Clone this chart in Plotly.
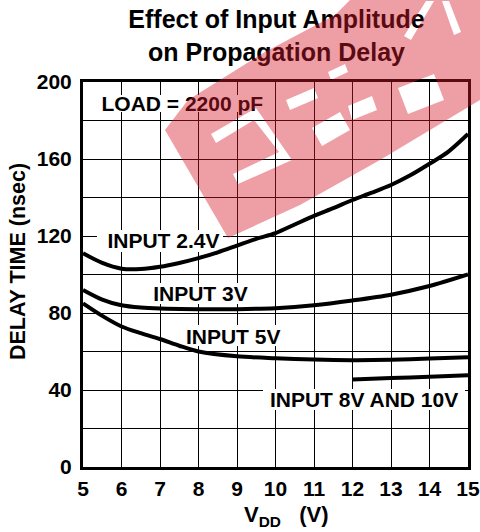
import plotly.graph_objects as go

# ---------------- data ----------------
vdd_24 = [5, 5.5, 6, 6.5, 7, 7.5, 8, 8.5, 9, 9.5, 10, 10.5, 11, 11.5, 12, 12.5, 13, 13.5, 14, 14.5, 15]
delay_24 = [111, 106, 103, 102.8, 104, 106, 108.5, 111.5, 115, 118.5, 121.5, 126, 130.5, 134.5, 138.7,
            142.5, 146.5, 151.5, 157.5, 164, 173]

vdd_3 = [5, 5.5, 6, 6.5, 7, 8, 9, 10, 11, 12, 13, 14, 15]
delay_3 = [92, 87, 84, 82.8, 82.3, 82, 82, 82.5, 84, 86.5, 89.5, 94, 100]

vdd_5 = [5, 5.5, 6, 6.5, 7, 7.5, 8, 9, 10, 11, 12, 13, 14, 15]
delay_5 = [85, 78.5, 73, 69.5, 66.5, 63, 60, 57.5, 56.5, 55.8, 55.5, 55.7, 56.3, 57]

vdd_8 = [12, 13, 14, 15]
delay_8 = [45.5, 46.2, 46.9, 47.7]

label_text = ["LOAD = 2200 pF", "INPUT 2.4V", "INPUT 3V", "INPUT 5V", "INPUT 8V AND 10V"]
label_x = [7.58, 7.09, 8.05, 8.9, 12.3]
label_y = [187.9, 116.3, 89.0, 66.8, 33.9]

title_text = "Effect of Input Amplitude<br>on Propagation Delay"
x_ticks = list(range(5, 16))
y_ticks = [0, 40, 80, 120, 160, 200]

# ---------------- layout helpers ----------------
W, H = 480, 532
L, R, T, B = 83, 12, 82, 65
PW, PH = W - L - R, H - T - B
X0, X1, Y0, Y1 = 5, 15, 0, 200
FONT = "Liberation Sans, Arial, sans-serif"


def px2x(px):
    return X0 + (px - L) / PW * (X1 - X0)


def py2y(py):
    return Y0 + (T + PH - py) / PH * (Y1 - Y0)


fig = go.Figure()

# white boxes behind the curve labels (drawn first: above gridlines, below curves)
label_boxes_px = [(99, 266, 95, 112), (97, 223, 230, 252), (148, 252, 283, 304),
                  (181, 285, 325, 346), (263, 465, 389, 410)]
bx, by = [], []
for (xa, xb, ya, yb) in label_boxes_px:
    bx += [px2x(xa), px2x(xb), px2x(xb), px2x(xa), px2x(xa), None]
    by += [py2y(ya), py2y(ya), py2y(yb), py2y(yb), py2y(ya), None]
fig.add_trace(go.Scatter(x=bx, y=by, mode="lines", fill="toself", fillcolor="white",
                         line=dict(width=0, color="white"), hoverinfo="skip"))

for xs, ys in [(vdd_24, delay_24), (vdd_3, delay_3), (vdd_5, delay_5), (vdd_8, delay_8)]:
    fig.add_trace(go.Scatter(x=xs, y=ys, mode="lines",
                             line=dict(color="black", width=4, shape="spline", smoothing=0.8),
                             hoverinfo="skip"))

fig.add_trace(go.Scatter(x=label_x, y=label_y, text=label_text, mode="text",
                         textposition="middle center",
                         textfont=dict(family=FONT, size=21, color="black", weight="bold"),
                         cliponaxis=False, hoverinfo="skip"))

# overlay pixel-space axes spanning the whole figure (for title + watermark)
fig.add_trace(go.Scatter(x=[276.5], y=[38], text=[title_text], mode="text",
                         textposition="middle center", xaxis="x2", yaxis="y2",
                         textfont=dict(family=FONT, size=25, color="black", weight="bold"),
                         cliponaxis=False, hoverinfo="skip"))

# ---------------- watermark (pixel coordinates) ----------------
outer = [(165, 130), (228, 238), (300, 205), (380, 160), (480, 100), (480, 0), (350, 0),
         (335, 15), (265, 52), (188, 100)]
holes = [
    [(211, 134), (256, 108), (292, 160), (238, 184), (233, 174), (279, 152), (254, 120), (216, 143)],
    [(286, 100), (314, 88), (318, 98), (290, 110)],
    [(312, 128), (340, 112), (350, 130), (322, 146)],
    [(348, 106), (372, 96), (377, 110), (352, 120)],
    [(398, 88), (434, 74), (444, 100), (408, 114)],
    [(404, 36), (426, 1), (434, 1), (411, 40)],
    [(442, 1), (449, 1), (461, 32), (454, 35)],
    [(328, 72), (345, 64), (348, 72), (331, 80)],
]


def poly_path(pts):
    return "M " + " L ".join(f"{a},{b}" for a, b in pts) + " Z"


path = poly_path(outer) + " " + " ".join(poly_path(h) for h in holes)
fig.add_shape(type="path", xref="x2", yref="y2", path=path,
              fillcolor="rgb(215,25,40)", opacity=0.42, line=dict(width=0),
              fillrule="evenodd", layer="above")

# ---------------- axes ----------------
fig.update_layout(
    xaxis=dict(domain=[L / W, (W - R) / W], range=[X0, X1], tickvals=x_ticks,
               ticktext=[str(v) for v in x_ticks], automargin=False,
               showgrid=True, gridcolor="black", gridwidth=1,
               showline=True, mirror=True, linecolor="black", linewidth=3,
               ticks="", ticklabelstandoff=1, zeroline=False,
               tickfont=dict(family=FONT, size=21, color="black", weight="bold")),
    yaxis=dict(domain=[B / H, (H - T) / H], range=[Y0, Y1], tickvals=y_ticks,
               ticktext=[str(v) for v in y_ticks], automargin=False,
               showgrid=True, gridcolor="black", gridwidth=1,
               minor=dict(dtick=20, tick0=0, showgrid=True, gridcolor="black", gridwidth=1),
               showline=True, mirror=True, linecolor="black", linewidth=3,
               ticks="", ticklabelstandoff=4, zeroline=False,
               tickfont=dict(family=FONT, size=21, color="black", weight="bold")),
    xaxis2=dict(domain=[0, 1], range=[0, W], visible=False, anchor="y2", fixedrange=True,
                automargin=False),
    yaxis2=dict(domain=[0, 1], range=[H, 0], visible=False, anchor="x2", fixedrange=True,
                automargin=False),
    width=W, height=H, margin=dict(l=0, r=0, t=0, b=0, pad=0, autoexpand=False),
    plot_bgcolor="rgba(0,0,0,0)", paper_bgcolor="white", showlegend=False,
    font=dict(family=FONT, color="black"),
    annotations=[
        dict(text="DELAY TIME (nsec)", xref="paper", yref="paper", x=18 / W, y=1 - 262 / H,
             textangle=-90, showarrow=False, xanchor="center", yanchor="middle",
             font=dict(family=FONT, size=21.5, color="black", weight="bold")),
        dict(text="V<sub>DD</sub>&nbsp;&nbsp;&nbsp;(V)", xref="paper", yref="paper",
             x=286 / W, y=1 - 516 / H,
             showarrow=False, xanchor="center", yanchor="middle",
             font=dict(family=FONT, size=22, color="black", weight="bold")),
    ],
)

fig.write_html("out.html", config={"displayModeBar": False},
               post_script="document.body.style.margin='0';")
